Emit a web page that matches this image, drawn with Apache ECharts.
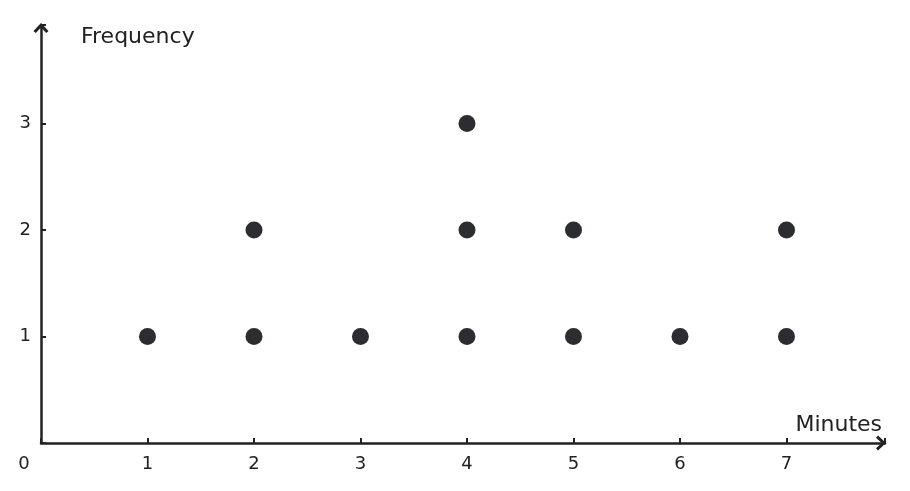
<!DOCTYPE html>
<html>
<head>
<meta charset="utf-8">
<script src="https://cdn.jsdelivr.net/npm/echarts@6/dist/echarts.min.js"></script>
<style>html,body{margin:0;padding:0;background:#fff}#c{width:910px;height:491px}</style>
</head>
<body>
<div id="c"></div>
<script>
const minutes = [1, 2, 3, 4, 5, 6, 7];
const frequency = [1, 2, 1, 3, 2, 1, 2];
const xTickLabels = ['0', '1', '2', '3', '4', '5', '6', '7'];
const yTickLabels = ['', '1', '2', '3'];

const points = [];
minutes.forEach((m, i) => {
  for (let k = 1; k <= frequency[i]; k++) points.push([m, k]);
});

const chev = 'path://M6,0 L12,6.4 L10.2,8 L6,3.5 L1.8,8 L0,6.4 Z';
const axisCol = '#222';
const font = 'DejaVu Sans';

const chart = echarts.init(document.getElementById('c'));
chart.setOption({
  animation: false,
  grid: { left: 41, top: 25, right: 25, bottom: 48, containLabel: false },
  xAxis: {
    type: 'value', min: 0, max: 7.925, interval: 1,
    name: 'Minutes', nameLocation: 'end', nameGap: 0,
    nameTextStyle: { fontFamily: font, fontSize: 22, color: '#222', align: 'right', verticalAlign: 'bottom', padding: [0, 3, 7, 0] },
    axisLine: { show: true, lineStyle: { color: axisCol, width: 2.5 }, symbol: ['none', chev], symbolSize: [15, 10], symbolOffset: [0, -4] },
    axisTick: { show: true, inside: true, length: 5, lineStyle: { color: axisCol, width: 2 } },
    splitLine: { show: false },
    showMaxLabel: false,
    axisLabel: {
      fontFamily: font, fontSize: 18, color: '#222', margin: 12,
      formatter: v => v === 0 ? '{z|' + xTickLabels[0] + '}' : xTickLabels[v],
      rich: { z: { fontFamily: font, fontSize: 18, color: '#222', padding: [0, 34, 0, 0] } }
    }
  },
  yAxis: {
    type: 'value', min: 0, max: 3.925, interval: 1,
    name: 'Frequency', nameLocation: 'end', nameGap: 0,
    nameTextStyle: { fontFamily: font, fontSize: 22, color: '#222', align: 'left', verticalAlign: 'top', padding: [1, 0, 0, 40] },
    axisLine: { show: true, lineStyle: { color: axisCol, width: 2.5 }, symbol: ['none', chev], symbolSize: [15, 10], symbolOffset: [0, -3] },
    axisTick: { show: true, inside: true, length: 5, lineStyle: { color: axisCol, width: 2 } },
    splitLine: { show: false },
    showMaxLabel: false,
    axisLabel: { fontFamily: font, fontSize: 18, color: '#222', margin: 10, formatter: v => yTickLabels[v] || '' }
  },
  series: [{
    type: 'scatter', data: points, symbolSize: 17,
    itemStyle: { color: '#2c2d31', opacity: 1 }
  }]
});
</script>
</body>
</html>
